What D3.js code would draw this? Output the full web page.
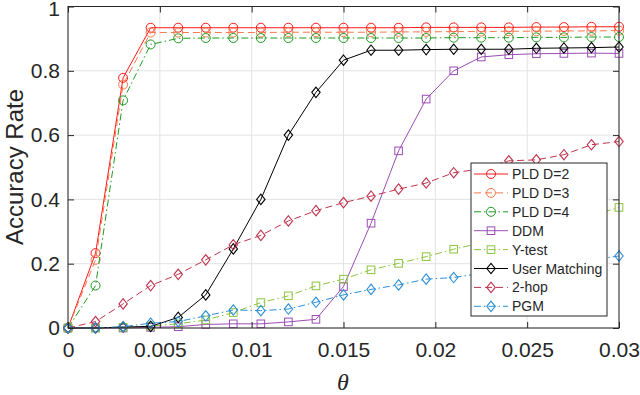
<!DOCTYPE html>
<html>
<head>
<meta charset="utf-8">
<script src="https://cdn.jsdelivr.net/npm/d3@7"></script>
<style>
  html, body { margin: 0; padding: 0; background: #fff; }
  svg { display: block; }
  text { font-family: "Liberation Sans", Arial, Helvetica, sans-serif; fill: #262626; }
</style>
</head>
<body>
<svg id="chart" width="640" height="395"></svg>
<script>
// ---- data ----
const theta = [0, 0.0015, 0.003, 0.0045, 0.006, 0.0075, 0.009, 0.0105, 0.012, 0.0135, 0.015,
               0.0165, 0.018, 0.0195, 0.021, 0.0225, 0.024, 0.0255, 0.027, 0.0285, 0.03];
const pldD2 = [0, 0.233, 0.778, 0.934, 0.934, 0.934, 0.934, 0.934, 0.934, 0.934, 0.934,
               0.934, 0.934, 0.935, 0.935, 0.935, 0.935, 0.936, 0.936, 0.937, 0.937];
const pldD3 = [0, 0.212, 0.757, 0.919, 0.919, 0.919, 0.919, 0.919, 0.920, 0.920, 0.920,
               0.920, 0.921, 0.921, 0.922, 0.922, 0.923, 0.923, 0.924, 0.924, 0.925];
const pldD4 = [0, 0.132, 0.708, 0.882, 0.901, 0.902, 0.902, 0.902, 0.902, 0.902, 0.902,
               0.902, 0.902, 0.902, 0.903, 0.903, 0.903, 0.904, 0.904, 0.905, 0.905];
const ddm   = [0, 0, 0, 0.002, 0.004, 0.011, 0.013, 0.013, 0.019, 0.027, 0.129,
               0.326, 0.551, 0.712, 0.800, 0.843, 0.850, 0.853, 0.854, 0.855, 0.854];
const ytest = [0, 0, 0.002, 0.006, 0.013, 0.025, 0.048, 0.079, 0.100, 0.131, 0.152,
               0.181, 0.201, 0.222, 0.245, 0.265, 0.285, 0.305, 0.327, 0.350, 0.375];
const userMatching = [0, 0, 0.003, 0.005, 0.033, 0.103, 0.246, 0.400, 0.600, 0.733, 0.833,
               0.864, 0.864, 0.866, 0.867, 0.867, 0.867, 0.870, 0.871, 0.872, 0.874];
const twoHop = [0, 0.020, 0.075, 0.132, 0.167, 0.212, 0.259, 0.288, 0.333, 0.365, 0.390,
               0.410, 0.432, 0.451, 0.483, 0.495, 0.520, 0.523, 0.539, 0.570, 0.580];
const pgm   = [0, 0, 0.004, 0.015, 0.020, 0.038, 0.056, 0.054, 0.059, 0.080, 0.103,
               0.120, 0.134, 0.152, 0.157, 0.170, 0.180, 0.190, 0.200, 0.212, 0.224];

const xTicks = [0, 0.005, 0.01, 0.015, 0.02, 0.025, 0.03];
const xTickLabels = ["0", "0.005", "0.01", "0.015", "0.02", "0.025", "0.03"];
const yTicks = [0, 0.2, 0.4, 0.6, 0.8, 1];
const yTickLabels = ["0", "0.2", "0.4", "0.6", "0.8", "1"];

const seriesNames = ["PLD D=2", "PLD D=3", "PLD D=4", "DDM", "Y-test", "User Matching", "2-hop", "PGM"];
const seriesValues = [pldD2, pldD3, pldD4, ddm, ytest, userMatching, twoHop, pgm];

(function () {
// ---- styles ----
const styles = [
  { color: "#ff1a1a", dash: null,        marker: "circle" },
  { color: "#f4794c", dash: "7,4",       marker: "circle" },
  { color: "#1f9a1f", dash: "7,3,1.5,3", marker: "circle" },
  { color: "#9b4db6", dash: null,        marker: "square" },
  { color: "#8cc43f", dash: "7,3,1.5,3", marker: "square" },
  { color: "#000000", dash: null,        marker: "diamond" },
  { color: "#c0334d", dash: "7,4",       marker: "diamond" },
  { color: "#2b8fd8", dash: "7,3,1.5,3", marker: "diamond" }
];

const svg = d3.select("#chart");
svg.append("rect").attr("width", 640).attr("height", 395).attr("fill", "#fff");

const pL = 68, pR = 619, pT = 6.5, pB = 328;
const x = d3.scaleLinear().domain([0, 0.03]).range([pL, pR]);
const y = d3.scaleLinear().domain([0, 1]).range([pB, pT]);

const axisColor = "#262626";
const gridColor = "#e3e3e3";

// grid
const g = svg.append("g");
g.selectAll(".vg").data(xTicks).enter().append("line")
  .attr("x1", d => x(d)).attr("x2", d => x(d)).attr("y1", pT).attr("y2", pB)
  .attr("stroke", gridColor).attr("stroke-width", 1);
g.selectAll(".hg").data(yTicks).enter().append("line")
  .attr("y1", d => y(d)).attr("y2", d => y(d)).attr("x1", pL).attr("x2", pR)
  .attr("stroke", gridColor).attr("stroke-width", 1);

// axes (inner ticks)
const tickLen = 6;
const xAxisB = d3.axisBottom(x).tickValues(xTicks).tickFormat((d, i) => xTickLabels[i]).tickSize(-tickLen).tickPadding(14);
const xAxisT = d3.axisTop(x).tickValues(xTicks).tickFormat("").tickSize(-tickLen);
const yAxisL = d3.axisLeft(y).tickValues(yTicks).tickFormat((d, i) => yTickLabels[i]).tickSize(-tickLen).tickPadding(8);
const yAxisR = d3.axisRight(y).tickValues(yTicks).tickFormat("").tickSize(-tickLen);

function styleAxis(sel) {
  sel.select(".domain").remove();
  sel.selectAll(".tick line").attr("stroke", axisColor).attr("stroke-width", 1);
  sel.selectAll("text").attr("fill", axisColor)
    .style("font-family", '"Liberation Sans", Arial, sans-serif').style("font-size", "21px");
}

// series
const lineGen = d3.line().x((d, i) => x(theta[i])).y(d => y(d));
const plotG = svg.append("g");

function drawMarker(sel, type, cx, cy, color) {
  if (type === "circle") {
    sel.append("circle").attr("cx", cx).attr("cy", cy).attr("r", 4.5)
      .attr("fill", "none").attr("stroke", color).attr("stroke-width", 1);
  } else if (type === "square") {
    sel.append("rect").attr("x", cx - 3.8).attr("y", cy - 3.8).attr("width", 7.6).attr("height", 7.6)
      .attr("fill", "none").attr("stroke", color).attr("stroke-width", 1);
  } else {
    const r = 5.2, w = 4.2;
    sel.append("path").attr("d", `M${cx},${cy - r}L${cx + w},${cy}L${cx},${cy + r}L${cx - w},${cy}Z`)
      .attr("fill", "none").attr("stroke", color).attr("stroke-width", 1.1);
  }
}

seriesValues.forEach((vals, si) => {
  const st = styles[si];
  const sg = plotG.append("g");
  sg.append("path").datum(vals).attr("d", lineGen)
    .attr("fill", "none").attr("stroke", st.color).attr("stroke-width", 1)
    .attr("stroke-dasharray", st.dash);
  vals.forEach((v, i) => drawMarker(sg, st.marker, x(theta[i]), y(v), st.color));
});

// axes on top
const gxB = svg.append("g").attr("transform", `translate(0,${pB})`).call(xAxisB); styleAxis(gxB);
const gxT = svg.append("g").attr("transform", `translate(0,${pT})`).call(xAxisT); styleAxis(gxT);
const gyL = svg.append("g").attr("transform", `translate(${pL},0)`).call(yAxisL); styleAxis(gyL);
const gyR = svg.append("g").attr("transform", `translate(${pR},0)`).call(yAxisR); styleAxis(gyR);
// keep the top label "1" inside the picture
gyL.selectAll(".tick text").filter(d => d === 1).attr("dy", "0.42em");

svg.append("rect").attr("x", pL).attr("y", pT).attr("width", pR - pL).attr("height", pB - pT)
  .attr("fill", "none").attr("stroke", axisColor).attr("stroke-width", 1);

// axis titles
svg.append("text").attr("x", 343).attr("y", 390).attr("text-anchor", "middle")
  .style("font-family", '"Liberation Serif", "DejaVu Serif", serif').style("font-style", "italic")
  .style("font-size", "24px").attr("fill", axisColor).text("θ");
svg.append("text").attr("transform", "translate(23,167) rotate(-90)").attr("text-anchor", "middle")
  .style("font-size", "24px").attr("fill", axisColor).text("Accuracy Rate");

// legend
const lg = svg.append("g");
const lx = 471, ly = 163, lw = 136, lh = 153;
lg.append("rect").attr("x", lx).attr("y", ly).attr("width", lw).attr("height", lh)
  .attr("fill", "#fff").attr("stroke", axisColor).attr("stroke-width", 1);
seriesNames.forEach((name, i) => {
  const st = styles[i];
  const ry = 174 + i * 18.9;
  lg.append("line").attr("x1", 474).attr("x2", 508).attr("y1", ry).attr("y2", ry)
    .attr("stroke", st.color).attr("stroke-width", 1).attr("stroke-dasharray", st.dash);
  drawMarker(lg, st.marker, 491, ry, st.color);
  lg.append("text").attr("x", 512).attr("y", ry).attr("dy", "0.36em")
    .style("font-size", "14px").attr("fill", "#000").text(name);
});
})();
</script>
</body>
</html>
